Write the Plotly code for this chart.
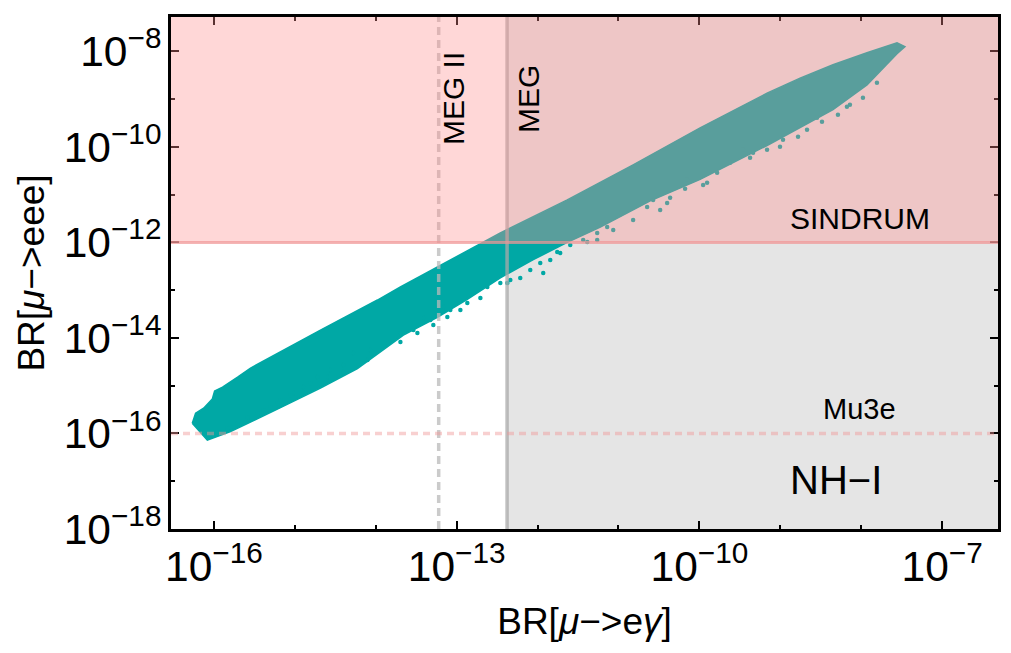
import numpy as np
import plotly.graph_objects as go

# experimental limits
MEG_LIMIT = 4.2e-13
MEG2_LIMIT = 6e-14
SINDRUM_LIMIT = 1e-12
MU3E_LIMIT = 1e-16

# axis ranges (log10)
x_range = [-16.53, -6.31]
y_range = [-18.0, -7.28]

# outline of the scan band, log10 values
band_upper_x = [-16.267, -16.226, -16.127, -16.020, -15.991, -15.893, -15.707, -15.547,
                -14.683, -13.979, -13.695, -13.078, -12.460, -11.633, -10.819, -9.991,
                -9.164, -8.756, -8.349, -7.929, -7.558, -7.46]
band_upper_y = [-15.784, -15.575, -15.47, -15.281, -15.113, -15.029, -14.82, -14.631,
                -13.835, -13.206, -12.933, -12.367, -11.801, -11.109, -10.375, -9.60,
                -8.875, -8.56, -8.279, -8.027, -7.818, -7.90]
band_lower_x = [-7.558, -7.929, -8.349, -9.164, -9.991, -10.608, -11.225, -11.633,
                -12.053, -12.460, -12.868, -13.238, -13.658, -14.226, -14.683, -15.177,
                -15.547, -15.794, -16.081]
band_lower_y = [-8.05, -8.70, -9.22, -9.97, -10.68, -11.13, -11.68, -12.0,
                -12.36, -12.74, -13.19, -13.57, -13.94, -14.64, -15.05, -15.46,
                -15.77, -15.96, -16.14]

# scattered points along the lower side of the band (log10)
pts_x = [-9.954, -10.177, -9.781, -9.621, -9.374, -9.164, -8.967, -8.781, -8.485, -8.288,
         -8.14, -7.979, -7.806, -7.547, -10.362, -10.572, -9.46, -8.67, -8.547, -8.177,
         -9.004, -9.337, -9.905, -10.152, -10.399, -10.485, -10.646, -10.819, -10.979, -11.14,
         -11.263, -11.436, -11.596, -11.72, -11.843, -11.967, -12.09, -12.214, -12.374, -11.93,
         -11.386, -11.757, -12.337, -12.46, -12.621, -12.707, -12.794, -12.868, -12.954, -13.078,
         -13.164, -13.288, -13.411, -13.572, -11.065, -11.263, -13.325, -13.535, -13.695, -13.856,
         -14.065, -14.102, -14.275, -14.399, -14.559, -14.72, -14.893, -15.016, -15.177, -15.3,
         -15.46, -15.584, -15.794, -15.917, -14.399, -14.596, -14.806, -15.053, -15.214, -15.386,
         -15.707, -15.831, -16.004, -13.695, -13.485, -13.288, -13.115, -12.954]
pts_y = [-10.795, -10.878, -10.543, -10.333, -10.229, -10.061, -9.851, -9.788, -9.474, -9.327,
         -9.117, -8.971, -8.656, -7.964, -11.067, -11.109, -10.061, -9.642, -9.39, -9.159,
         -9.998, -10.124, -10.753, -10.69, -11.172, -11.319, -11.256, -11.528, -11.382, -11.675,
         -11.801, -11.948, -12.052, -12.22, -12.367, -12.43, -12.577, -12.744, -12.849, -12.639,
         -11.99, -12.199, -12.786, -12.849, -12.933, -13.164, -13.059, -13.268, -13.205, -13.415,
         -13.352, -13.478, -13.583, -13.688, -11.738, -11.948, -13.625, -13.834, -13.897, -14.107,
         -14.254, -14.463, -14.317, -14.568, -14.673, -14.82, -15.029, -15.155, -15.302, -15.449,
         -15.574, -15.658, -15.868, -15.973, -14.715, -14.82, -14.946, -15.197, -15.365, -15.512,
         -15.784, -15.889, -16.036, -14.086, -13.897, -13.73, -13.562, -13.415]

TEAL = "#00A8A5"
FONT = "Liberation Sans"

outline_x = 10.0 ** np.array(band_upper_x + band_lower_x + band_upper_x[:1])
outline_y = 10.0 ** np.array(band_upper_y + band_lower_y + band_upper_y[:1])

xmin, xmax = 10 ** x_range[0], 10 ** x_range[1]
ymin, ymax = 10 ** y_range[0], 10 ** y_range[1]

fig = go.Figure()
fig.add_trace(go.Scatter(x=outline_x, y=outline_y, mode="lines", fill="toself",
                         fillcolor=TEAL, line=dict(color=TEAL, width=1.5),
                         hoverinfo="skip", showlegend=False))
fig.add_trace(go.Scatter(x=10.0 ** np.array(pts_x), y=10.0 ** np.array(pts_y),
                         mode="markers", marker=dict(color=TEAL, size=4.5),
                         hoverinfo="skip", showlegend=False))

shapes = [
    # NH-I excluded by MEG, grey, behind the points
    dict(type="rect", layer="below", xref="x", yref="y", x0=MEG_LIMIT, x1=xmax,
         y0=ymin, y1=ymax, fillcolor="#E5E5E5", line=dict(width=0)),
    dict(type="line", layer="above", xref="x", yref="y", x0=MEG_LIMIT, x1=MEG_LIMIT,
         y0=ymin, y1=ymax, line=dict(color="rgba(170,170,170,0.75)", width=3.5)),
    dict(type="line", layer="above", xref="x", yref="y", x0=MEG2_LIMIT, x1=MEG2_LIMIT,
         y0=ymin, y1=ymax, line=dict(color="rgba(185,185,185,0.75)", width=3.5, dash="8px,5px")),
    # SINDRUM excluded region, pink, on top
    dict(type="rect", layer="above", xref="x", yref="y", x0=xmin, x1=xmax,
         y0=SINDRUM_LIMIT, y1=ymax, fillcolor="rgb(255,140,140)", opacity=0.35,
         line=dict(width=0)),
    dict(type="line", layer="above", xref="x", yref="y", x0=xmin, x1=xmax,
         y0=SINDRUM_LIMIT, y1=SINDRUM_LIMIT, line=dict(color="rgba(240,150,150,0.7)", width=3)),
    dict(type="line", layer="above", xref="x", yref="y", x0=xmin, x1=xmax,
         y0=MU3E_LIMIT, y1=MU3E_LIMIT,
         line=dict(color="rgba(240,150,150,0.45)", width=3.5, dash="7px,5px")),
]

annotations = [
    dict(x=-13.04, y=-8.99, text="MEG II", textangle=-90, font=dict(size=30)),
    dict(x=-12.115, y=-8.99, text="MEG", textangle=-90, font=dict(size=30)),
    dict(x=-8.02, y=-11.49, text="SINDRUM", font=dict(size=30)),
    dict(x=-8.02, y=-15.49, text="Mu3e", font=dict(size=29)),
    dict(x=-8.31, y=-16.98, text="NH−I", font=dict(size=40)),
]
for a in annotations:
    a.update(xref="x", yref="y", showarrow=False)
    a["font"].update(family=FONT, color="black")

axis_common = dict(type="log", exponentformat="power", showgrid=False, zeroline=False,
                   showline=True, linecolor="black", linewidth=2.5, mirror="allticks",
                   ticks="inside", ticklen=8, tickwidth=1.5, tickcolor="black",
                   automargin=False,
                   tickfont=dict(family=FONT, size=34, color="black"))

# the page adds an 8px body margin, so the figure is 8px smaller and shifted
fig.update_layout(
    width=1003, height=645,
    margin=dict(l=163, r=13, t=9, b=124),
    plot_bgcolor="white", paper_bgcolor="white",
    shapes=shapes, annotations=annotations,
    xaxis=dict(axis_common, range=x_range, tick0=-16, dtick=3,
               minor=dict(dtick=1, ticks="inside", ticklen=4, tickwidth=1.5, tickcolor="black"),
               title=dict(text="BR[<i>μ</i>−>e<i>γ</i>]", standoff=20,
                          font=dict(family=FONT, size=37, color="black"))),
    yaxis=dict(axis_common, range=y_range, tick0=-18, dtick=2,
               minor=dict(dtick=1, ticks="inside", ticklen=4, tickwidth=1.5, tickcolor="black"),
               title=dict(text="BR[<i>μ</i>−>eee]", standoff=8,
                          font=dict(family=FONT, size=37, color="black"))),
)

fig.write_html("out.html")
